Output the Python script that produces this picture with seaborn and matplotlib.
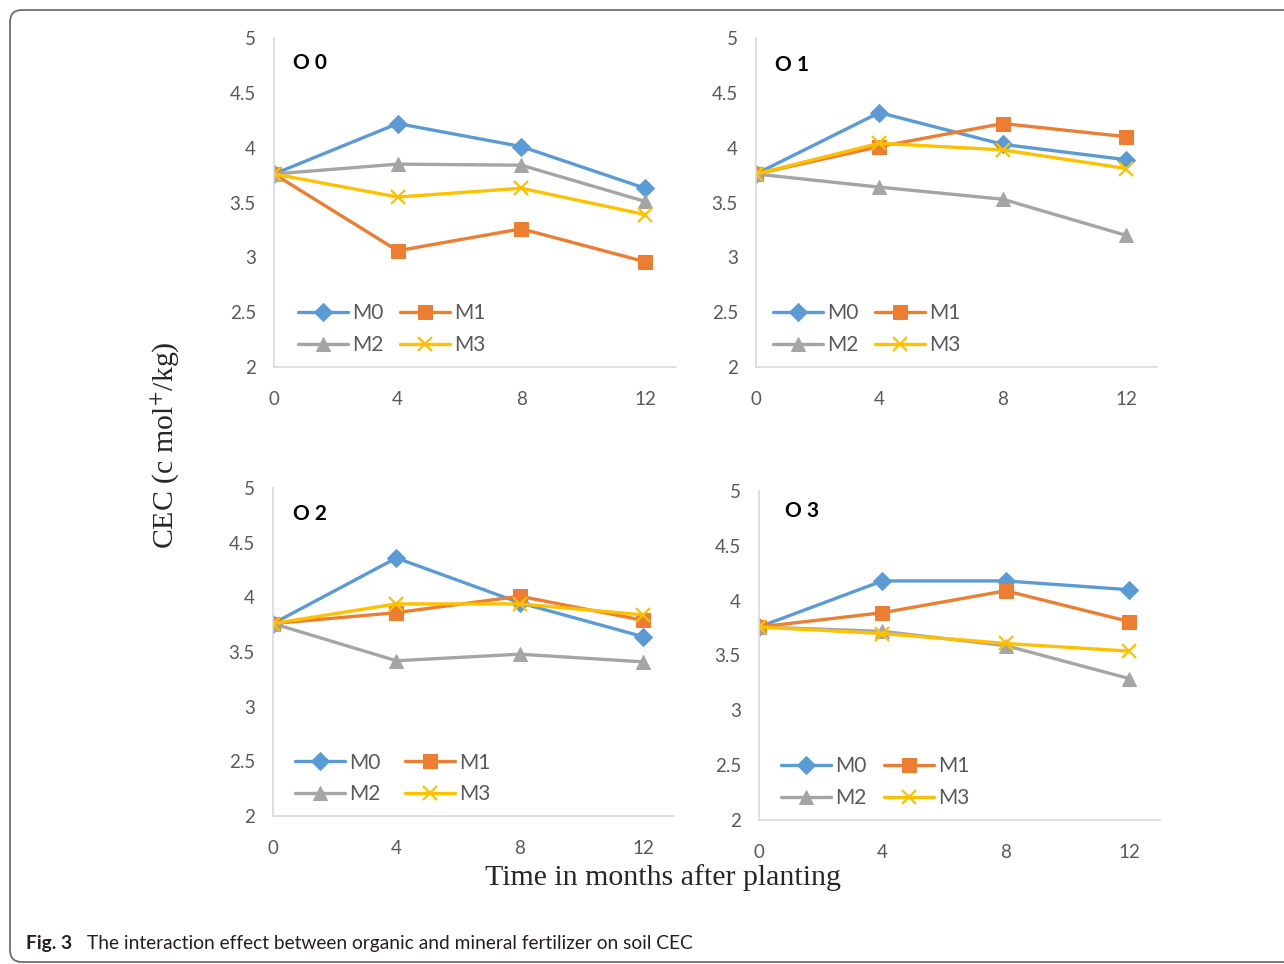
import matplotlib
matplotlib.use("Agg")
import matplotlib.pyplot as plt
from matplotlib.patches import FancyBboxPatch
import pandas as pd
import seaborn as sns

# data (CEC, c mol+/kg)
months = [0, 4, 8, 12]
series = ["M0", "M1", "M2", "M3"]
panels = ["O0", "O1", "O2", "O3"]

o0 = {"M0": [3.76, 4.22, 4.01, 3.63],
      "M1": [3.76, 3.06, 3.26, 2.96],
      "M2": [3.76, 3.85, 3.84, 3.51],
      "M3": [3.76, 3.55, 3.63, 3.39]}
o1 = {"M0": [3.76, 4.32, 4.03, 3.89],
      "M1": [3.76, 4.01, 4.22, 4.10],
      "M2": [3.76, 3.64, 3.53, 3.20],
      "M3": [3.76, 4.04, 3.98, 3.81]}
o2 = {"M0": [3.76, 4.36, 3.95, 3.64],
      "M1": [3.76, 3.86, 4.01, 3.79],
      "M2": [3.76, 3.42, 3.48, 3.41],
      "M3": [3.76, 3.94, 3.94, 3.84]}
o3 = {"M0": [3.76, 4.18, 4.18, 4.10],
      "M1": [3.76, 3.89, 4.09, 3.81],
      "M2": [3.76, 3.72, 3.59, 3.29],
      "M3": [3.76, 3.70, 3.61, 3.54]}

colors = {"M0": "#5B9BD5", "M1": "#ED7D31", "M2": "#A5A5A5", "M3": "#FFC000"}
markers = {"M0": "D", "M1": "s", "M2": "^", "M3": "x"}
msizes = {"M0": 9, "M1": 10.5, "M2": 10.5, "M3": 10}

rows = []
for name, d in zip(panels, [o0, o1, o2, o3]):
    for m in series:
        for t, v in zip(months, d[m]):
            rows.append({"panel": name, "series": m, "month": t, "cec": v})
df = pd.DataFrame(rows)

sns.set_theme(style="white")
plt.rcParams["font.family"] = ["Lato", "DejaVu Sans"]
plt.rcParams["mathtext.fontset"] = "stix"

W, H = 1284, 964
fig = plt.figure(figsize=(W / 100, H / 100), dpi=100)

# axes boxes in pixels: left, top, right, bottom
boxes = {"O0": (274, 38, 676, 367), "O1": (756, 38, 1157, 367),
         "O2": (273, 488, 674, 816), "O3": (759, 491, 1160, 820)}
title_pos = {"O0": (0.047, 0.925), "O1": (0.047, 0.918),
             "O2": (0.05, 0.92), "O3": (0.065, 0.94)}
col_space = {"O0": 0.8, "O1": 0.8, "O2": 1.2, "O3": 0.8}
leg_x = {"O0": 0.033, "O1": 0.017, "O2": 0.028, "O3": 0.03}

for name in panels:
    l, t, r, b = boxes[name]
    ax = fig.add_axes([l / W, 1 - b / H, (r - l) / W, (b - t) / H])
    sub = df[df["panel"] == name]
    sns.lineplot(data=sub, x="month", y="cec", hue="series", hue_order=series,
                 palette=colors, linewidth=2.4, legend=False, ax=ax)
    for line, m in zip(ax.lines, series):
        line.set_marker(markers[m])
        line.set_markeredgecolor(colors[m])
        line.set_markerfacecolor(colors[m])
        line.set_markersize(msizes[m])
        if m == "M3":
            line.set_markeredgewidth(1.6)
    ax.set_xlim(0, 13)
    ax.set_ylim(2, 5)
    ax.set_xticks(months)
    ax.set_yticks([2, 2.5, 3, 3.5, 4, 4.5, 5])
    ax.set_yticklabels(["2", "2.5", "3", "3.5", "4", "4.5", "5"])
    ax.set_xlabel("")
    ax.set_ylabel("")
    ax.tick_params(length=0, labelsize=13.5, colors="#595959")
    ax.tick_params(axis="y", pad=13)
    ax.tick_params(axis="x", pad=17)
    for s in ["top", "right"]:
        ax.spines[s].set_visible(False)
    for s in ["left", "bottom"]:
        ax.spines[s].set_color("#D9D9D9")
        ax.spines[s].set_linewidth(1.2)
    ax.text(title_pos[name][0], title_pos[name][1], name[0] + " " + name[1],
            transform=ax.transAxes, fontsize=15, fontweight="bold",
            color="black", va="center", ha="left")
    h = ax.lines
    ax.legend([h[0], h[2], h[1], h[3]], ["M0", "M2", "M1", "M3"], ncol=2,
              loc="center left", bbox_to_anchor=(leg_x[name], 0.115), frameon=False,
              fontsize=15, handlelength=2.4, handletextpad=0.2,
              columnspacing=col_space[name], labelspacing=0.55,
              borderpad=0, labelcolor="#595959")

fig.text(165 / W, 1 - 445 / H, "CEC (c mol$^{+}$/kg)", rotation=90,
         family="Liberation Serif", fontsize=21.5, ha="center", va="center")
fig.text(663 / W, 1 - 878 / H, "Time in months after planting",
         family="Liberation Serif", fontsize=21.5, ha="center", va="center")

fig.text(26 / W, 1 - 944 / H, "Fig. 3", fontsize=13.8, fontweight="bold",
         color="#231F20", va="center", ha="left")
fig.text(87 / W, 1 - 944 / H,
         "The interaction effect between organic and mineral fertilizer on soil CEC",
         fontsize=13.8, color="#231F20", va="center", ha="left")

frame = FancyBboxPatch((10, 2), 1300, 952, boxstyle="round,pad=0,rounding_size=12",
                       transform=None, fill=False, edgecolor="#6E6E6E", linewidth=1.3)
fig.patches.append(frame)

fig.savefig("out.png", dpi=100)
